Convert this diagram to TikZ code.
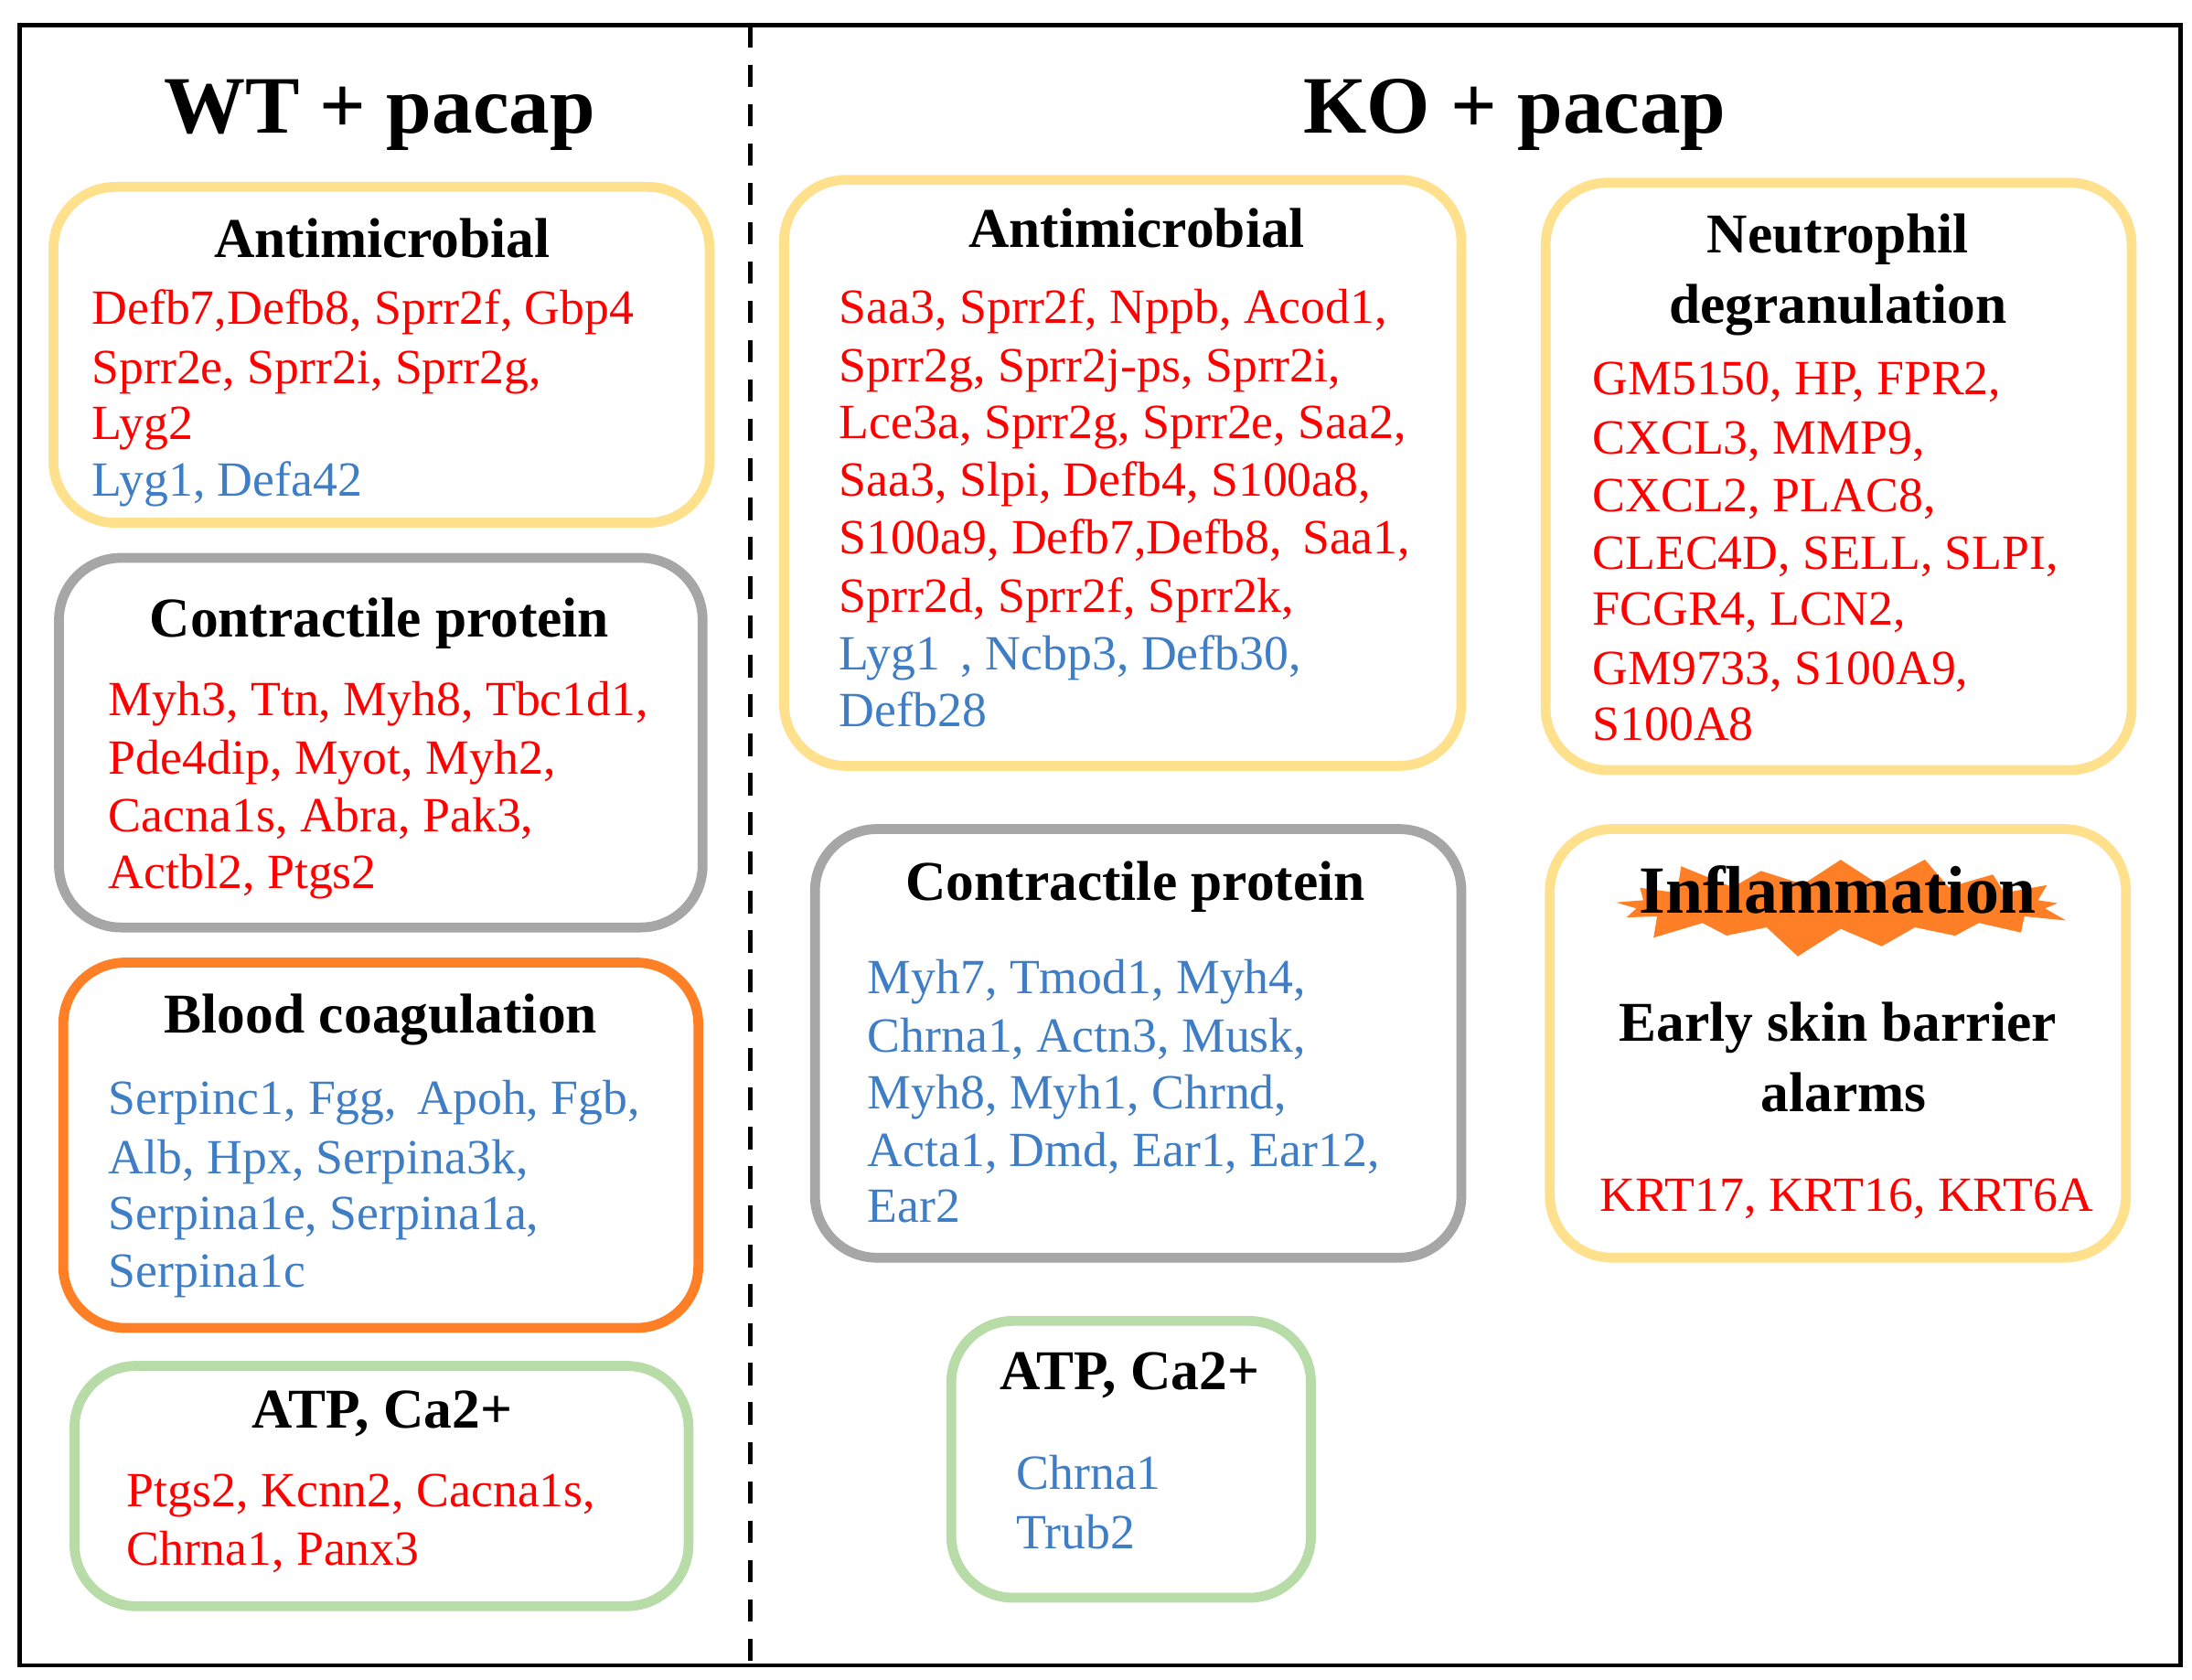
\documentclass[tikz,border=0pt]{standalone}
\usepackage{fontspec}
\setmainfont{Liberation Serif}
\usetikzlibrary{shapes.symbols}
\definecolor{gr}{HTML}{FF0000}
\definecolor{gb}{HTML}{3F7DC5}
\definecolor{by}{HTML}{FFE08C}
\definecolor{bg}{HTML}{A6A6A6}
\definecolor{bo}{HTML}{FF7F27}
\definecolor{bgr}{HTML}{B7DCA8}
\tikzset{
 box/.style={line width=3.5pt,rounded corners=22pt},
 ttl/.style={font=\fontsize{20}{23}\selectfont\bfseries,anchor=base},
 big/.style={font=\fontsize{29}{32}\selectfont\bfseries,anchor=base},
 rg/.style={text=gr,font=\fontsize{17.5}{20}\selectfont,anchor=base west,inner sep=0pt},
 bl/.style={text=gb,font=\fontsize{17.5}{20}\selectfont,anchor=base west,inner sep=0pt},
}
\begin{document}
\begin{tikzpicture}[x=0.5pt,y=-0.5pt]
\useasboundingbox (0,0) rectangle (1560,1195);
\draw[line width=1.5pt] (14,18) rectangle (1552,1185);
\coordinate (dt) at (534,18); \coordinate (db) at (534,1185);
\draw[line width=1.5pt,dash pattern=on 8pt off 6pt] (dt) -- (db);
\node[big] (t1) at (270,95) {WT + pacap};
\node[big] (t2) at (1078,95) {KO + pacap};
% WT
\draw[box,by] (38,133) rectangle (505,372);
\node[ttl] (a1) at (272,183) {Antimicrobial};
\node[rg] (a1l1) at (65,231) {Defb7,Defb8, Sprr2f, Gbp4};
\node[rg] (a1l2) at (65,273) {Sprr2e, Sprr2i, Sprr2g,};
\node[rg] (a1l3) at (65,313) {Lyg2};
\node[bl] (a1l4) at (65,353) {Lyg1, Defa42};
\draw[box,bg] (42,397) rectangle (500,660);
\node[ttl] (c1) at (270,453) {Contractile protein};
\node[rg] (c1l1) at (77,509) {Myh3, Ttn, Myh8, Tbc1d1,};
\node[rg] (c1l2) at (77,551) {Pde4dip, Myot, Myh2,};
\node[rg] (c1l3) at (77,592) {Cacna1s, Abra, Pak3,};
\node[rg] (c1l4) at (77,632) {Actbl2, Ptgs2};
\draw[box,bo] (45,685) rectangle (497,945);
\node[ttl] (b1) at (271,735) {Blood coagulation};
\node[bl] (b1l1) at (77,793) {Serpinc1, Fgg, \,Apoh, Fgb,};
\node[bl] (b1l2) at (77,835) {Alb, Hpx, Serpina3k,};
\node[bl] (b1l3) at (77,875) {Serpina1e, Serpina1a,};
\node[bl] (b1l4) at (77,916) {Serpina1c};
\draw[box,bgr] (53,972) rectangle (490,1143);
\node[ttl] (p1) at (272,1016) {ATP, Ca2+};
\node[rg] (p1l1) at (90,1072) {Ptgs2, Kcnn2, Cacna1s,};
\node[rg] (p1l2) at (90,1114) {Chrna1, Panx3};
% KO
\draw[box,by] (558,128) rectangle (1040,545);
\node[ttl] (a2) at (809,176) {Antimicrobial};
\node[rg] (a2l1) at (597,230) {Saa3, Sprr2f, Nppb, Acod1,};
\node[rg] (a2l2) at (597,272) {Sprr2g, Sprr2j-ps, Sprr2i,};
\node[rg] (a2l3) at (597,312) {Lce3a, Sprr2g, Sprr2e, Saa2,};
\node[rg] (a2l4) at (597,353) {Saa3, Slpi, Defb4, S100a8,};
\node[rg] (a2l5) at (597,394) {S100a9, Defb7,Defb8, \,Saa1,};
\node[rg] (a2l6) at (597,436) {Sprr2d, Sprr2f, Sprr2k,};
\node[bl] (a2l7) at (597,477) {Lyg1 \,, Ncbp3, Defb30,};
\node[bl] (a2l8) at (597,517) {Defb28};
\draw[box,by] (1100,130) rectangle (1517,548);
\node[ttl] (n1) at (1308,180) {Neutrophil};
\node[ttl] (n2) at (1308,230) {degranulation};
\node[rg] (nl1) at (1133,281) {GM5150, HP, FPR2,};
\node[rg] (nl2) at (1133,323) {CXCL3, MMP9,};
\node[rg] (nl3) at (1133,364) {CXCL2, PLAC8,};
\node[rg] (nl4) at (1133,405) {CLEC4D, SELL, SLPI,};
\node[rg] (nl5) at (1133,445) {FCGR4, LCN2,};
\node[rg] (nl6) at (1133,487) {GM9733, S100A9,};
\node[rg] (nl7) at (1133,527) {S100A8};
\draw[box,bg] (580,590) rectangle (1040,895);
\node[ttl] (c2) at (808,641) {Contractile protein};
\node[bl] (c2l1) at (617,707) {Myh7, Tmod1, Myh4,};
\node[bl] (c2l2) at (617,749) {Chrna1, Actn3, Musk,};
\node[bl] (c2l3) at (617,789) {Myh8, Myh1, Chrnd,};
\node[bl] (c2l4) at (617,830) {Acta1, Dmd, Ear1, Ear12,};
\node[bl] (c2l5) at (617,870) {Ear2};
\draw[box,by] (1103,590) rectangle (1513,895);
\node[starburst,fill=bo,draw=none,minimum width=170pt,minimum height=40pt,starburst point height=12pt,starburst points=17] (sb) at (1310,645) {};
\node[ttl,font=\fontsize{24}{27}\selectfont\bfseries] (inf) at (1308,650) {Inflammation};
\node[ttl] (e1) at (1308,741) {Early skin barrier};
\node[ttl] (e2) at (1312,791) {alarms};
\node[rg] (kl) at (1138,862) {KRT17, KRT16, KRT6A};
\draw[box,bgr] (677,940) rectangle (933,1137);
\node[ttl] (p2) at (804,989) {ATP, Ca2+};
\node[bl] (p2l1) at (723,1060) {Chrna1};
\node[bl] (p2l2) at (723,1102) {Trub2};
\end{tikzpicture}
\end{document}
